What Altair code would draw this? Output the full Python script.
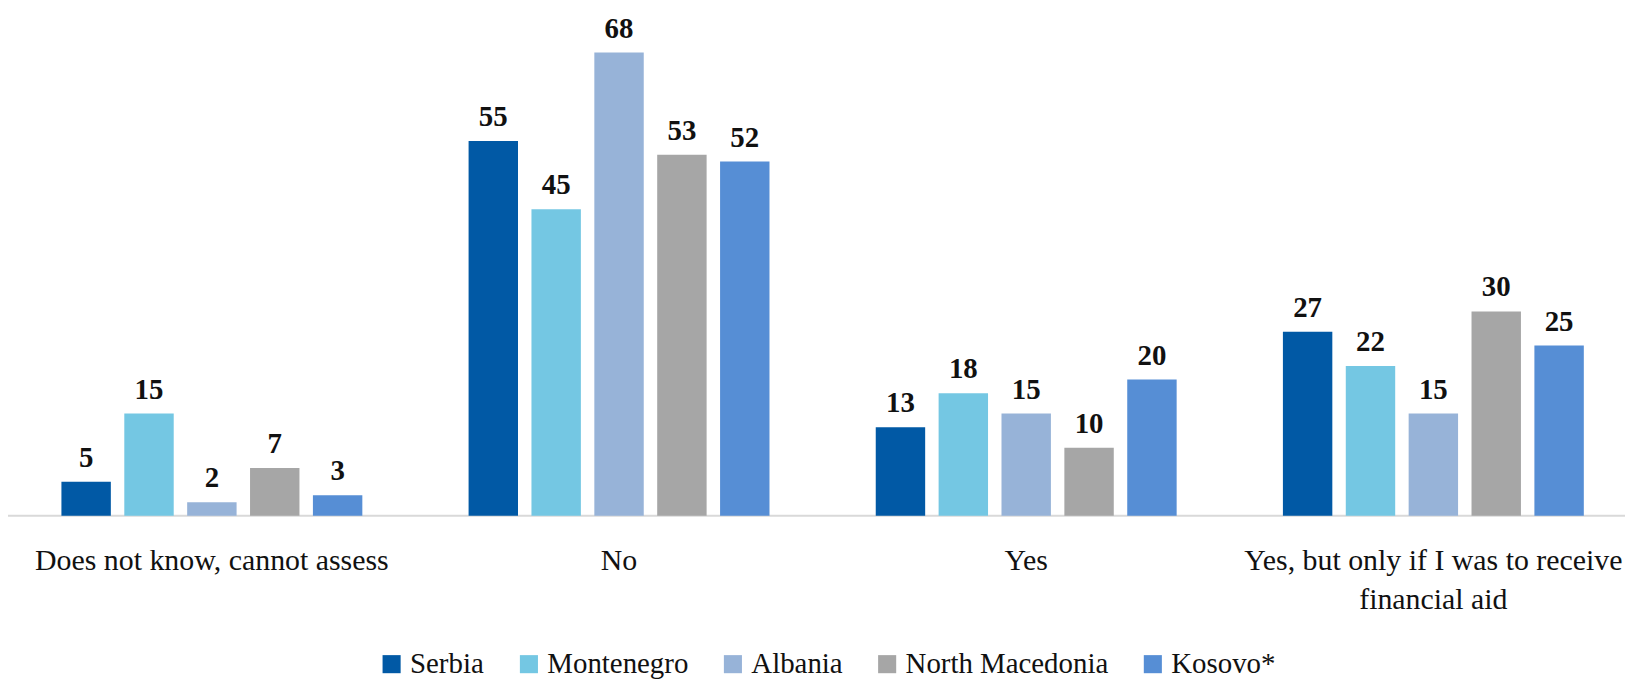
import altair as alt
import pandas as pd

categories = ["Does not know, cannot assess", "No", "Yes",
              "Yes, but only if I was to receive\nfinancial aid"]
countries = ["Serbia", "Montenegro", "Albania", "North Macedonia", "Kosovo*"]
serbia = [5, 55, 13, 27]
montenegro = [15, 45, 18, 22]
albania = [2, 68, 15, 15]
north_macedonia = [7, 53, 10, 30]
kosovo = [3, 52, 20, 25]
colors = ["#0159A5", "#74C7E3", "#97B3D8", "#A6A6A6", "#568ED5"]

series = [serbia, montenegro, albania, north_macedonia, kosovo]
rows = []
for country, vals in zip(countries, series):
    for cat, v in zip(categories, vals):
        rows.append({"category": cat, "country": country, "value": v})
df = pd.DataFrame(rows)

FONT = "Liberation Serif"
W = 1625
H = 672
PLOT_H = 508.6
YMAX = 74.3

x = alt.X("category:N", sort=categories,
          scale=alt.Scale(paddingInner=0, paddingOuter=0, range=[0.3, 1637]),
          axis=alt.Axis(title=None, labelAngle=0, ticks=False, domain=False,
                        offset=-(H - PLOT_H),
                        labelExpr="split(datum.label, '\\n')",
                        labelFont=FONT, labelFontSize=30, labelColor="#111111",
                        labelPadding=30, labelLineHeight=39, labelLimit=0))
xo = alt.XOffset("country:N", sort=countries,
                 scale=alt.Scale(paddingInner=0.214, paddingOuter=0.845))
yscale = alt.Scale(domain=[0, YMAX], nice=False, range=[PLOT_H, 0])
y = alt.Y("value:Q", scale=yscale, axis=None)

base = alt.Chart(df)

bars = base.mark_bar().encode(
    x=x, xOffset=xo, y=y,
    color=alt.Color("country:N", sort=countries,
                    scale=alt.Scale(domain=countries, range=colors),
                    legend=alt.Legend(title=None, orient="none", direction="horizontal",
                                      legendX=371, legendY=643,
                                      symbolType="square", symbolSize=330,
                                      symbolStrokeWidth=0, symbolOpacity=1,
                                      labelFont=FONT, labelFontSize=29,
                                      labelColor="#111111", labelOffset=4,
                                      columnPadding=30, labelLimit=0))
)

labels = base.mark_text(font=FONT, fontSize=29, fontWeight="bold",
                        baseline="alphabetic", dy=-15, color="#111111").encode(
    x=x, xOffset=xo, y=y, text=alt.Text("value:Q")
)

rule = alt.Chart(pd.DataFrame({"v": [0]})).mark_rule(color="#D9D9D9", strokeWidth=2).encode(
    x=alt.value(0), x2=alt.value(W), y=alt.Y("v:Q", scale=yscale, axis=None)
)

chart = alt.layer(rule, bars, labels).properties(
    width=W, height=H, padding=0, autosize=alt.AutoSizeParams(type="none")
).configure_view(stroke=None)

chart.save("out.html", embed_options={"renderer": "svg", "actions": False})
